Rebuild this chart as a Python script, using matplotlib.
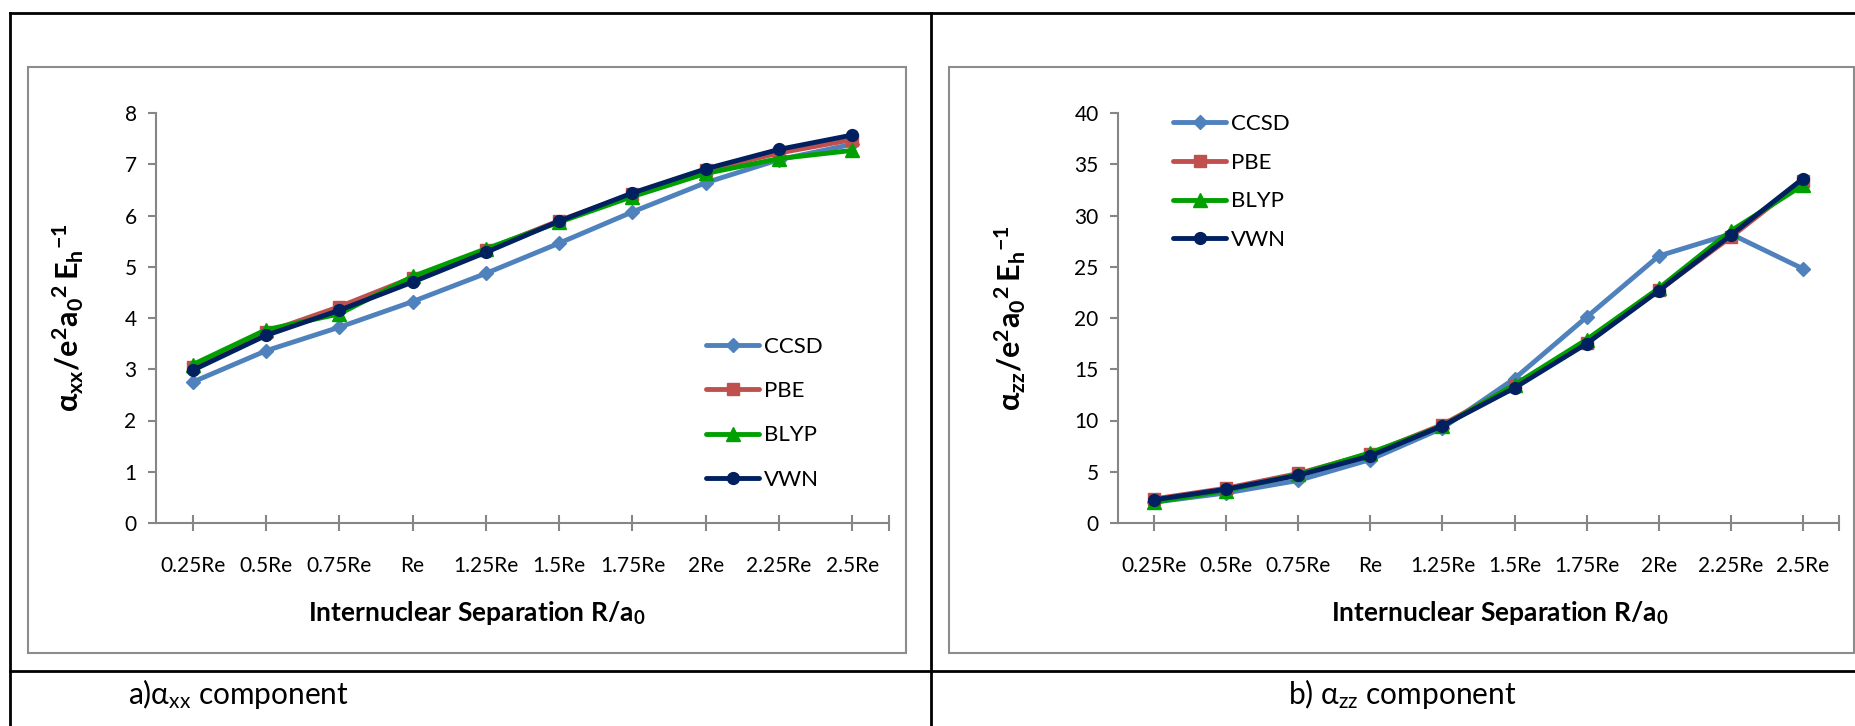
import matplotlib
matplotlib.use("Agg")
import matplotlib.pyplot as plt
from matplotlib.lines import Line2D
from matplotlib.patches import Rectangle

plt.rcParams["font.family"] = ["Lato", "DejaVu Sans"]
plt.rcParams["mathtext.fontset"] = "custom"
plt.rcParams["mathtext.rm"] = "Lato"
plt.rcParams["mathtext.bf"] = "Lato:bold"
plt.rcParams["mathtext.it"] = "Lato:italic"

categories = ["0.25Re", "0.5Re", "0.75Re", "Re", "1.25Re", "1.5Re",
              "1.75Re", "2Re", "2.25Re", "2.5Re"]
series_names = ["CCSD", "PBE", "BLYP", "VWN"]

# alpha_xx
xx_ccsd = [2.75, 3.36, 3.82, 4.32, 4.87, 5.46, 6.07, 6.64, 7.09, 7.39]
xx_pbe = [3.04, 3.72, 4.22, 4.79, 5.33, 5.90, 6.42, 6.88, 7.22, 7.48]
xx_blyp = [3.09, 3.77, 4.08, 4.81, 5.35, 5.87, 6.37, 6.82, 7.11, 7.27]
xx_vwn = [2.98, 3.66, 4.15, 4.70, 5.28, 5.89, 6.44, 6.91, 7.29, 7.57]

# alpha_zz
zz_ccsd = [2.03, 2.93, 4.15, 6.19, 9.26, 14.09, 20.09, 26.05, 28.20, 24.80]
zz_pbe = [2.35, 3.39, 4.83, 6.77, 9.60, 13.40, 17.60, 22.70, 27.90, 33.40]
zz_blyp = [2.03, 3.16, 4.74, 6.86, 9.44, 13.50, 17.90, 22.90, 28.50, 32.96]
zz_vwn = [2.26, 3.30, 4.65, 6.55, 9.48, 13.18, 17.50, 22.66, 28.08, 33.60]

colors = ["#4F81BD", "#C0504D", "#00A000", "#002060"]
markers = ["D", "s", "^", "o"]
msizes = [7.5, 8.5, 9.5, 8.5]

W, H = 1856, 726
fig = plt.figure(figsize=(W / 100, H / 100), dpi=100)


def fx(x):
    return x / W


def fy(y):
    return 1 - y / H


def panel(rect, data, ymax, ystep, ylabel, ylab_x, xlab_x, leg_anchor, leg_spacing):
    ax = fig.add_axes(rect)
    xs = range(len(categories))
    for vals, name, c, m, ms in zip(data, series_names, colors, markers, msizes):
        ax.plot(xs, vals, color=c, lw=3.5, marker=m, markersize=ms,
                markeredgecolor=c, label=name, solid_capstyle="round")
    ax.set_xlim(-0.5, len(categories) - 0.5)
    ax.set_ylim(0, ymax)
    ax.set_yticks(range(0, ymax + 1, ystep))
    ax.set_xticks(list(xs))
    ax.set_xticklabels(categories)
    ax.set_xticks([len(categories) - 0.5], minor=True)
    for s in ["top", "right"]:
        ax.spines[s].set_visible(False)
    for s in ["left", "bottom"]:
        ax.spines[s].set_color("#868686")
        ax.spines[s].set_linewidth(1.5)
    ax.tick_params(axis="y", direction="out", length=6, width=1.5,
                   color="#868686", labelsize=15, pad=8)
    ax.tick_params(axis="x", which="both", direction="inout", length=12,
                   width=1.5, color="#868686", labelsize=15, pad=18)
    ax.set_ylabel(ylabel, fontsize=22, va="center")
    ax.yaxis.set_label_coords(ylab_x, 0.5)
    ax.set_xlabel(r"Internuclear Separation R/a$_\mathbf{0}$", fontsize=19,
                  fontweight="bold", va="center")
    ax.xaxis.set_label_coords(xlab_x, -0.22)
    ax.patch.set_alpha(0)
    ax.legend(loc="upper left", bbox_to_anchor=leg_anchor,
              bbox_transform=fig.transFigure, frameon=False, fontsize=16,
              handlelength=2.4, handletextpad=0.22, borderpad=0,
              borderaxespad=0, labelspacing=leg_spacing)
    return ax


# chart area boxes
fig.add_artist(Rectangle((fx(28), fy(653)), fx(906) - fx(28), fy(67) - fy(653),
                         transform=fig.transFigure, fill=False,
                         edgecolor="#8c8c8c", lw=1.5))
fig.add_artist(Rectangle((fx(949), fy(653)), fx(1854) - fx(949), fy(67) - fy(653),
                         transform=fig.transFigure, fill=False,
                         edgecolor="#8c8c8c", lw=1.5))

panel([fx(156), fy(523), fx(889) - fx(156), fy(113) - fy(523)],
      [xx_ccsd, xx_pbe, xx_blyp, xx_vwn], 8, 1,
      r"$\mathbf{\alpha_{xx}/e^2a_0{}^2\,E_h{}^{-1}}$", -0.12, 0.437,
      (fx(706), fy(337)), 1.09)
panel([fx(1118), fy(523), fx(1839) - fx(1118), fy(113) - fy(523)],
      [zz_ccsd, zz_pbe, zz_blyp, zz_vwn], 40, 5,
      r"$\mathbf{\alpha_{zz}/e^2a_0{}^2\,E_h{}^{-1}}$", -0.15, 0.53,
      (fx(1173), fy(114)), 0.84)

# table lines
for (x0, y0, x1, y1) in [(10, 13, W, 13), (10, 13, 10, H), (931, 13, 931, H),
                         (10, 671, W, 671)]:
    fig.add_artist(Line2D([fx(x0), fx(x1)], [fy(y0), fy(y1)],
                          transform=fig.transFigure, color="black", lw=2))

fig.text(fx(128), fy(694), r"a)$\mathrm{\alpha_{xx}}$ component", fontsize=21.5,
         ha="left", va="center")
fig.text(fx(1402), fy(694), r"b) $\mathrm{\alpha_{zz}}$ component", fontsize=21.5,
         ha="center", va="center")

fig.savefig("out.png", dpi=100)
